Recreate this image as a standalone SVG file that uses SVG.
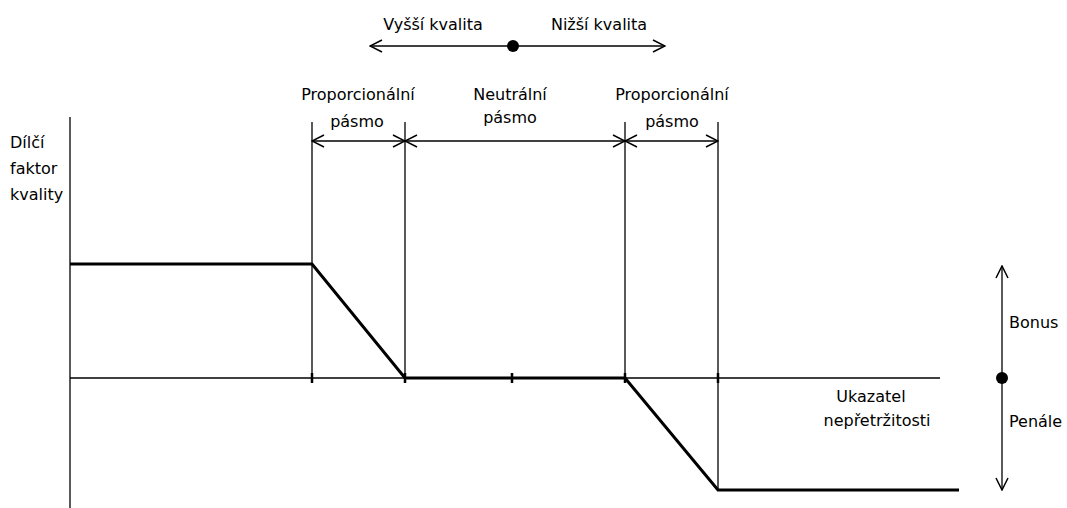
<svg xmlns="http://www.w3.org/2000/svg" width="1067" height="508" viewBox="0 0 1067 508">
<style>
text{font-family:"DejaVu Sans","Liberation Sans",sans-serif;font-size:16px;fill:#000}
.m{text-anchor:middle}
.thin{stroke:#000;stroke-width:1.3;fill:none}
.thick{stroke:#000;stroke-width:3;fill:none}
.tick{stroke:#000;stroke-width:2.5}
</style>
<defs>
<marker id="oa" viewBox="0 0 14 14" refX="13" refY="7" markerWidth="14" markerHeight="14" markerUnits="userSpaceOnUse" orient="auto-start-reverse">
<path d="M1,1 L13,7 L1,13" fill="none" stroke="#000" stroke-width="1.5"/>
</marker>
</defs>
<rect width="1067" height="508" fill="#fff"/>
<g id="axes">
<line class="thin" x1="70" y1="117" x2="70" y2="508"/>
<line class="thin" x1="70" y1="378" x2="940" y2="378"/>
</g>
<g id="guides">
<line class="thin" x1="312" y1="122" x2="312" y2="378"/>
<line class="thin" x1="405" y1="122" x2="405" y2="378"/>
<line class="thin" x1="625" y1="122" x2="625" y2="378"/>
<line class="thin" x1="718" y1="122" x2="718" y2="490"/>
</g>
<g id="ticks">
<line class="tick" x1="312" y1="373" x2="312" y2="383"/>
<line class="tick" x1="405" y1="373" x2="405" y2="383"/>
<line class="tick" x1="512" y1="373" x2="512" y2="383"/>
<line class="tick" x1="625" y1="373" x2="625" y2="383"/>
<line class="tick" x1="718" y1="373" x2="718" y2="383"/>
</g>
<g id="curve">
<polyline class="thick" points="70,264 312,264 405,378 625,378 718,490 959,490"/>
</g>
<g id="connectors">
<line class="thin" x1="370" y1="46" x2="665" y2="46" marker-start="url(#oa)" marker-end="url(#oa)"/>
<line class="thin" x1="312" y1="141" x2="405" y2="141" marker-start="url(#oa)" marker-end="url(#oa)"/>
<line class="thin" x1="405" y1="141" x2="625" y2="141" marker-start="url(#oa)" marker-end="url(#oa)"/>
<line class="thin" x1="625" y1="141" x2="718" y2="141" marker-start="url(#oa)" marker-end="url(#oa)"/>
<line class="thin" x1="1002" y1="266" x2="1002" y2="490" marker-start="url(#oa)" marker-end="url(#oa)"/>
</g>
<g id="dots">
<circle cx="513" cy="46" r="6" fill="#000"/>
<circle cx="1002" cy="378" r="6" fill="#000"/>
</g>
<g id="labels">
<text class="m" x="433" y="30">Vyšší kvalita</text>
<text class="m" x="599" y="30">Nižší kvalita</text>
<text class="m" x="358" y="100">Proporcionální</text>
<text class="m" x="357" y="127">pásmo</text>
<text class="m" x="510" y="100">Neutrální</text>
<text class="m" x="510" y="123">pásmo</text>
<text class="m" x="672" y="100">Proporcionální</text>
<text class="m" x="672" y="127">pásmo</text>
<text x="10" y="148">Dílčí</text>
<text x="10" y="174">faktor</text>
<text x="10" y="200">kvality</text>
<text x="1009" y="328">Bonus</text>
<text x="1009" y="427">Penále</text>
<text class="m" x="871" y="402">Ukazatel</text>
<text class="m" x="877" y="426">nepřetržitosti</text>
</g>
</svg>
